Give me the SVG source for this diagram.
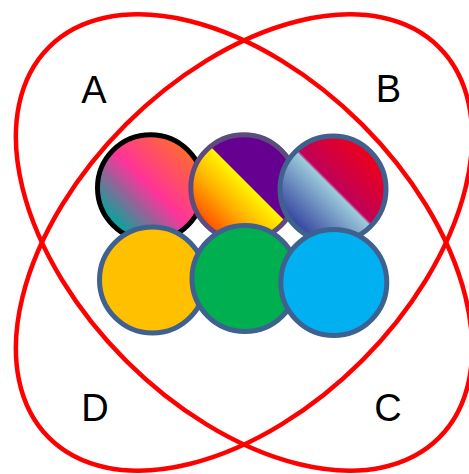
<svg xmlns="http://www.w3.org/2000/svg" width="469" height="474" viewBox="0 0 469 474">
  <style>
    .set { fill: none; stroke: #FF0000; stroke-width: 4.5; }
    .dot { stroke: #3E6190; stroke-width: 5; }
    .lbl { font-family: "Liberation Sans", Arial, sans-serif; font-size: 38px; fill: #000000; text-anchor: middle; }
  </style>
  <defs>
    <linearGradient id="g1" x1="0" y1="1" x2="1" y2="0">
      <stop offset="0.15" stop-color="#00A89A"/>
      <stop offset="0.5" stop-color="#FF3399"/>
      <stop offset="0.85" stop-color="#FF6A30"/>
    </linearGradient>
    <linearGradient id="g2" x1="1" y1="0" x2="0" y2="1">
      <stop offset="0" stop-color="#650090"/>
      <stop offset="0.46" stop-color="#650090"/>
      <stop offset="0.465" stop-color="#FFF500"/>
      <stop offset="0.65" stop-color="#FFB000"/>
      <stop offset="0.85" stop-color="#FF5000"/>
    </linearGradient>
    <linearGradient id="g3" x1="1" y1="0" x2="0" y2="1">
      <stop offset="0.16" stop-color="#EC001C"/>
      <stop offset="0.48" stop-color="#C00058"/>
      <stop offset="0.5" stop-color="#9CCBDA"/>
      <stop offset="0.85" stop-color="#3444A0"/>
    </linearGradient>
  </defs>
  <g id="sets">
    <ellipse id="set-AC" class="set" cx="244" cy="242.5" rx="276" ry="167" transform="rotate(45 244 242.5)"/>
    <ellipse id="set-BD" class="set" cx="244" cy="242.5" rx="276" ry="167" transform="rotate(-45 244 242.5)"/>
  </g>
  <g id="labels">
    <text id="label-A" class="lbl" x="94" y="103">A</text>
    <text id="label-B" class="lbl" x="388.5" y="102">B</text>
    <text id="label-D" class="lbl" x="95" y="421">D</text>
    <text id="label-C" class="lbl" x="388" y="421">C</text>
  </g>
  <g id="circle-1"><circle cx="150.5" cy="187.8" r="53" fill="url(#g1)" stroke="#000000" stroke-width="5"/></g>
  <g id="circle-2"><circle cx="243.8" cy="187.8" r="53" fill="url(#g2)" stroke="#5E4B7E" stroke-width="5"/></g>
  <g id="circle-3"><circle class="dot" cx="333" cy="189" r="53" fill="url(#g3)"/></g>
  <g id="circle-4"><circle class="dot" cx="152.5" cy="280" r="53" fill="#FFC000"/></g>
  <g id="circle-5"><circle class="dot" cx="245" cy="278.5" r="53" fill="#00B050"/></g>
  <g id="circle-6"><circle class="dot" cx="333.8" cy="282.5" r="53" fill="#00B0F0"/></g>
</svg>
